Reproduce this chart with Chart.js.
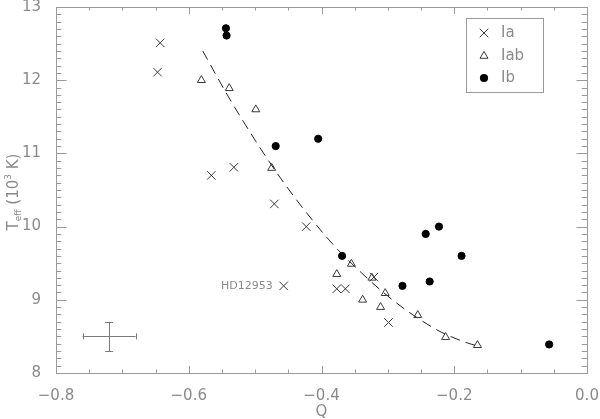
<!DOCTYPE html>
<html>
<head>
<meta charset="utf-8">
<style>
html,body{margin:0;padding:0;background:#fff;}
canvas{display:block;}
</style>
<script src="https://cdn.jsdelivr.net/npm/chart.js@4/dist/chart.umd.min.js"></script>
</head>
<body>
<canvas id="c" width="600" height="419"></canvas>
<script>
// ---- data ----
const iaQ  = [-0.643, -0.647, -0.566, -0.532, -0.471, -0.423, -0.457, -0.377, -0.364, -0.321, -0.299];
const iaT  = [12.51, 12.11, 10.70, 10.81, 10.31, 10.00, 9.19, 9.15, 9.15, 9.31, 8.69];

const iabQ = [-0.581, -0.539, -0.499, -0.475, -0.377, -0.355, -0.338, -0.324, -0.311, -0.304, -0.255, -0.213, -0.165];
const iabT = [12.00, 11.89, 11.60, 10.80, 9.35, 9.49, 9.00, 9.30, 8.90, 9.09, 8.79, 8.49, 8.38];

const ibQ  = [-0.544, -0.543, -0.469, -0.405, -0.369, -0.278, -0.243, -0.223, -0.237, -0.189, -0.057];
const ibT  = [12.71, 12.61, 11.10, 11.20, 9.60, 9.19, 9.90, 10.00, 9.25, 9.60, 8.39];

const fitQ = [-0.579, -0.54, -0.50, -0.46, -0.42, -0.38, -0.34, -0.30, -0.26, -0.22, -0.18, -0.161];
const fitT = [12.40, 11.77, 11.18, 10.64, 10.16, 9.73, 9.37, 9.05, 8.78, 8.56, 8.41, 8.36];

const xTicks = [-0.8, -0.6, -0.4, -0.2, 0.0];
const yTicks = [8, 9, 10, 11, 12, 13];
const seriesNames = ['Ia', 'Iab', 'Ib'];
const labelText = 'HD12953';
const labelIndex = 6;          // index in Ia arrays
const errQ = -0.72, errT = 8.5, errDQ = 0.04, errDT = 0.2;

const pts = (xs, ys) => xs.map((x, i) => ({x: x, y: ys[i]}));

const GREY = '#8a8a8a';
const AXIS = '#9a9a9a';
const FONT = '"DejaVu Sans", sans-serif';

function drawSym(ctx, style, r, x, y) {
  ctx.beginPath();
  if (style === 'crossRot') {
    const o = Math.cos(Math.PI / 4) * r;
    ctx.moveTo(x - o, y - o); ctx.lineTo(x + o, y + o);
    ctx.moveTo(x - o, y + o); ctx.lineTo(x + o, y - o);
    ctx.stroke();
  } else if (style === 'triangle') {
    ctx.moveTo(x, y - r);
    ctx.lineTo(x + 0.866 * r, y + 0.5 * r);
    ctx.lineTo(x - 0.866 * r, y + 0.5 * r);
    ctx.closePath();
    ctx.stroke();
  } else {
    ctx.arc(x, y, r + 0.5, 0, Math.PI * 2);
    ctx.fill();
  }
}

const framePlugin = {
  id: 'frame',
  afterDatasetsDraw(chart) {
    const ctx = chart.ctx, a = chart.chartArea;
    const xs = chart.scales.x, ys = chart.scales.y;
    ctx.save();
    ctx.strokeStyle = AXIS;
    ctx.lineWidth = 1;
    // box
    ctx.strokeRect(Math.round(a.left) + 0.5, Math.round(a.top) + 0.5,
                   Math.round(a.right - a.left), Math.round(a.bottom - a.top));
    // x ticks (bottom and top, inward)
    ctx.beginPath();
    for (let k = 0; k <= 16; k++) {
      const v = -0.8 + k * 0.05;
      const px = Math.round(xs.getPixelForValue(v)) + 0.5;
      const len = (k % 4 === 0) ? 7 : 3.5;
      ctx.moveTo(px, a.bottom); ctx.lineTo(px, a.bottom - len);
      ctx.moveTo(px, a.top); ctx.lineTo(px, a.top + len);
    }
    // y ticks (left and right, inward)
    for (let k = 0; k <= 50; k++) {
      const v = 8 + k * 0.1;
      const py = Math.round(ys.getPixelForValue(v)) + 0.5;
      const len = (k % 10 === 0) ? 10.5 : 5.3;
      ctx.moveTo(a.left, py); ctx.lineTo(a.left + len, py);
      ctx.moveTo(a.right, py); ctx.lineTo(a.right - len, py);
    }
    ctx.stroke();

    // error bar cross
    ctx.strokeStyle = '#7a7a7a';
    const cx = xs.getPixelForValue(errQ), cy = ys.getPixelForValue(errT);
    const x0 = xs.getPixelForValue(errQ - errDQ), x1 = xs.getPixelForValue(errQ + errDQ);
    const y0 = ys.getPixelForValue(errT - errDT), y1 = ys.getPixelForValue(errT + errDT);
    ctx.beginPath();
    ctx.moveTo(x0, Math.round(cy) + 0.5); ctx.lineTo(x1, Math.round(cy) + 0.5);
    ctx.moveTo(Math.round(cx) + 0.5, y0); ctx.lineTo(Math.round(cx) + 0.5, y1);
    ctx.moveTo(Math.round(x0) + 0.5, cy - 3); ctx.lineTo(Math.round(x0) + 0.5, cy + 3);
    ctx.moveTo(Math.round(x1) + 0.5, cy - 3); ctx.lineTo(Math.round(x1) + 0.5, cy + 3);
    ctx.moveTo(cx - 4, Math.round(y0) + 0.5); ctx.lineTo(cx + 4, Math.round(y0) + 0.5);
    ctx.moveTo(cx - 4, Math.round(y1) + 0.5); ctx.lineTo(cx + 4, Math.round(y1) + 0.5);
    ctx.stroke();

    // star label
    ctx.fillStyle = GREY;
    ctx.font = '11px ' + FONT;
    ctx.textAlign = 'right';
    ctx.textBaseline = 'middle';
    ctx.fillText(labelText, xs.getPixelForValue(iaQ[labelIndex]) - 11,
                 ys.getPixelForValue(iaT[labelIndex]));

    // legend
    ctx.strokeStyle = AXIS;
    ctx.strokeRect(466.5, 18.5, 77, 74);
    const ds = chart.data.datasets;
    const rowsY = [33, 56, 78];
    for (let i = 0; i < 3; i++) {
      const d = ds[i];
      ctx.strokeStyle = d.borderColor;
      ctx.fillStyle = d.backgroundColor;
      ctx.lineWidth = 1;
      drawSym(ctx, d.pointStyle, d.pointRadius, 484, rowsY[i]);
      ctx.fillStyle = GREY;
      ctx.font = '15px ' + FONT;
      ctx.textAlign = 'left';
      ctx.textBaseline = 'middle';
      ctx.fillText(seriesNames[i], 501, rowsY[i]);
    }

    // axis titles
    ctx.fillStyle = GREY;
    ctx.textBaseline = 'alphabetic';
    ctx.textAlign = 'center';
    ctx.font = '15px ' + FONT;
    ctx.fillText('Q', (a.left + a.right) / 2, 416);

    // y title with sub/superscripts, rotated
    ctx.save();
    ctx.translate(18, (a.top + a.bottom) / 2 + 2);
    ctx.rotate(-Math.PI / 2);
    const parts = [
      {t: 'T', s: 15, dy: 0},
      {t: 'eff', s: 9, dy: 3},
      {t: ' (10', s: 15, dy: 0},
      {t: '3', s: 9, dy: -7},
      {t: ' K)', s: 15, dy: 0}
    ];
    let w = 0;
    parts.forEach(p => { ctx.font = p.s + 'px ' + FONT; p.w = ctx.measureText(p.t).width; w += p.w; });
    let x = -w / 2;
    ctx.textAlign = 'left';
    parts.forEach(p => { ctx.font = p.s + 'px ' + FONT; ctx.fillText(p.t, x, p.dy); x += p.w; });
    ctx.restore();

    ctx.restore();
  }
};

const fmt = v => (Math.abs(v) < 1e-9 ? '0.0' : v.toFixed(1).replace('-', '\u2212'));

new Chart(document.getElementById('c'), {
  type: 'scatter',
  data: {
    datasets: [
      {label: seriesNames[0], data: pts(iaQ, iaT), pointStyle: 'crossRot', pointRadius: 6,
       borderColor: '#3a3a3a', backgroundColor: 'rgba(0,0,0,0)', borderWidth: 1, showLine: false},
      {label: seriesNames[1], data: pts(iabQ, iabT), pointStyle: 'triangle', pointRadius: 4.6,
       borderColor: '#3a3a3a', backgroundColor: 'rgba(0,0,0,0)', borderWidth: 1, showLine: false},
      {label: seriesNames[2], data: pts(ibQ, ibT), pointStyle: 'circle', pointRadius: 3.6,
       borderColor: '#000', backgroundColor: '#000', borderWidth: 1, showLine: false},
      {label: 'fit', type: 'line', data: pts(fitQ, fitT), borderColor: '#222', borderWidth: 1,
       borderDash: [10, 6], pointRadius: 0, fill: false, cubicInterpolationMode: 'monotone'}
    ]
  },
  options: {
    responsive: false,
    animation: false,
    events: [],
    layout: {padding: {top: 4, right: 13, left: 0, bottom: 0}},
    plugins: {legend: {display: false}, tooltip: {enabled: false}},
    scales: {
      x: {
        type: 'linear', min: -0.8, max: 0,
        afterBuildTicks: s => { s.ticks = xTicks.map(v => ({value: v})); },
        afterFit: s => { s.height = 46; s.paddingLeft = 0; s.paddingRight = 0; },
        grid: {display: false}, border: {display: false},
        ticks: {color: GREY, font: {family: FONT, size: 15}, padding: 6,
                callback: v => fmt(v), maxRotation: 0, autoSkip: false}
      },
      y: {
        type: 'linear', min: 8, max: 13,
        afterBuildTicks: s => { s.ticks = yTicks.map(v => ({value: v})); },
        afterFit: s => { s.width = 56; s.paddingTop = 0; s.paddingBottom = 0; },
        grid: {display: false}, border: {display: false},
        ticks: {color: GREY, font: {family: FONT, size: 15}, padding: 7,
                callback: v => String(v), autoSkip: false}
      }
    }
  },
  plugins: [framePlugin]
});
</script>
</body>
</html>
